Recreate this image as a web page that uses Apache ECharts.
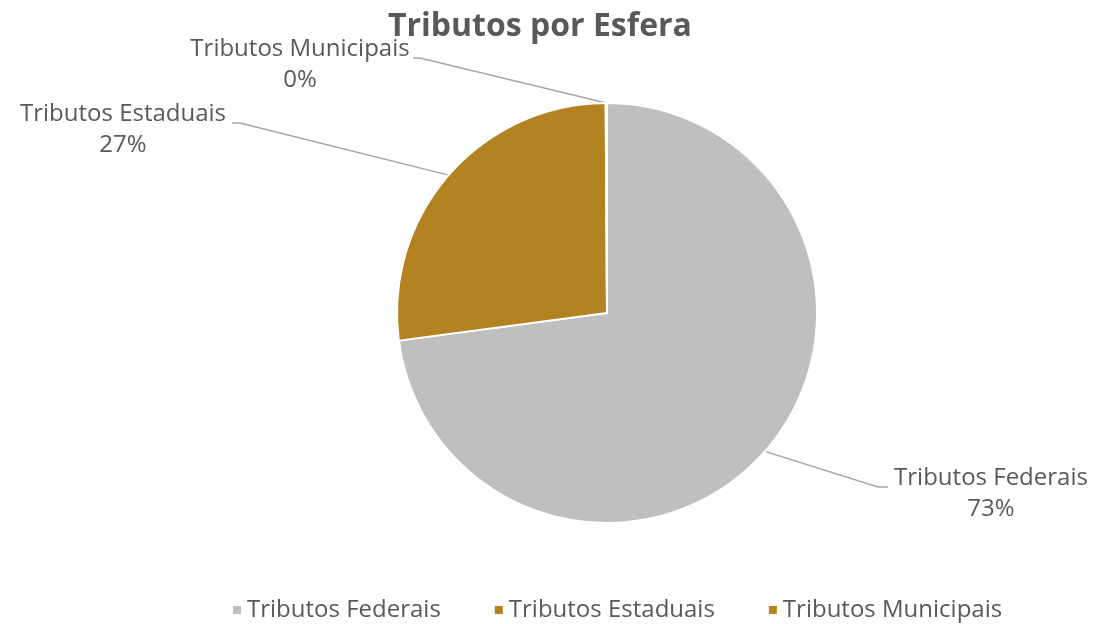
<!DOCTYPE html>
<html>
<head>
<meta charset="utf-8">
<script src="https://cdn.jsdelivr.net/npm/echarts@6/dist/echarts.min.js"></script>
<style>
  html, body { margin: 0; padding: 0; background: #fff; }
  #main { width: 1096px; height: 624px; }
</style>
</head>
<body>
<div id="main"></div>
<script>
// dados do grafico
var categorias = ['Tributos Federais', 'Tributos Estaduais', 'Tributos Municipais'];
var valores = [72.9, 27.0, 0.1];
var cores = ['#BFBFBF', '#B38321', '#B5851F'];

// posicao dos rotulos (x, y, alinhamento) e ponto do cotovelo da linha
var rotulos = [
  { x: 991, y: 494, align: 'center', lineY: 487, elbow: 878, end: 888 },
  { x: 123, y: 130, align: 'center', lineY: 123, elbow: 240, end: 232 },
  { x: 300, y: 65, align: 'center', lineY: 58, elbow: 420, end: 413 }
];

var chart = echarts.init(document.getElementById('main'));
var fonte = '"Open Sans", Lato, sans-serif';

chart.setOption({
  animation: false,
  title: {
    text: 'Tributos por Esfera',
    left: 383,
    top: 6,
    textStyle: { fontFamily: fonte, fontSize: 32, fontWeight: 'bold', color: '#595959' }
  },
  legend: {
    bottom: -3,
    left: 226,
    itemWidth: 10,
    itemHeight: 10,
    itemGap: 52,
    icon: 'rect',
    data: categorias,
    textStyle: { fontFamily: fonte, fontSize: 24, color: '#595959' }
  },
  series: [{
    type: 'pie',
    center: [607, 313],
    radius: 210,
    startAngle: 90,
    clockwise: true,
    data: categorias.map(function (c, i) {
      return { name: c, value: valores[i], itemStyle: { color: cores[i] } };
    }),
    itemStyle: { borderColor: '#fff', borderWidth: 2 },
    label: {
      show: true,
      formatter: function (p) { return p.name + '\n' + Math.round(p.percent) + '%'; },
      fontFamily: fonte,
      fontSize: 24,
      lineHeight: 31,
      color: '#595959'
    },
    labelLine: { show: true, lineStyle: { color: '#A6A6A6', width: 1.5 } },
    labelLayout: function (params) {
      var r = rotulos[params.dataIndex];
      var p0 = params.labelLinePoints ? params.labelLinePoints[0] : [607, 103];
      return {
        x: r.x,
        y: r.y,
        align: r.align,
        verticalAlign: 'middle',
        labelLinePoints: [p0, [r.elbow, r.lineY], [r.end, r.lineY]]
      };
    }
  }]
});
</script>
</body>
</html>
